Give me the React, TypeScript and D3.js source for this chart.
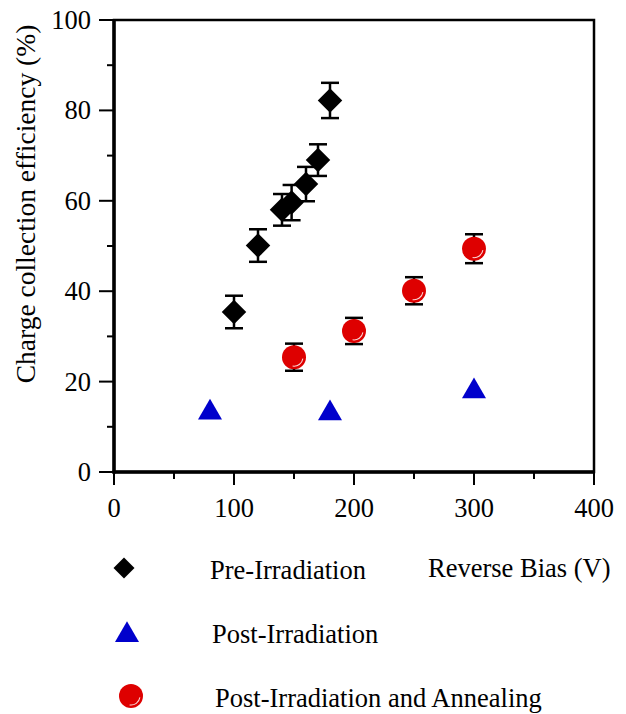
import React, { useEffect, useRef } from "react";
import * as d3 from "d3";

// bias (V), efficiency (%), error (±%)
const preBias = [100, 120, 140, 148, 160, 170, 180];
const preEff = [35.4, 50.1, 58.0, 59.6, 63.7, 69.0, 82.2];
const preErr = [3.6, 3.6, 3.5, 3.9, 3.8, 3.5, 3.9];

const postBias = [80, 180, 300];
const postEff = [13.6, 13.4, 18.3];

const annBias = [150, 200, 250, 300];
const annEff = [25.4, 31.2, 40.1, 49.4];
const annErr = [3.0, 2.9, 3.0, 3.2];

const xTicks = [0, 100, 200, 300, 400];
const yTicks = [0, 20, 40, 60, 80, 100];

const legendLabels = ["Pre-Irradiation", "Post-Irradiation", "Post-Irradiation and Annealing"];

const FONT = "'Liberation Serif', 'Times New Roman', serif";
const FS = 26.5;
const RED = "#de0000";
const BLUE = "#0000cc";

export default function App() {
  const ref = useRef<SVGSVGElement>(null);

  useEffect(() => {
    const svg = d3.select(ref.current);
    svg.selectAll("*").remove();

    const margin = { left: 114, right: 32, top: 20, bottom: 242 };
    const W = 626, H = 714;
    const x = d3.scaleLinear().domain([0, 400]).range([margin.left, W - margin.right]);
    const y = d3.scaleLinear().domain([0, 100]).range([H - margin.bottom, margin.top]);

    const g = svg.append("g");

    // minor + major ticks
    const xMinor = d3.range(50, 400, 100);
    const yMinor = d3.range(10, 100, 20);

    g.selectAll(".xmaj").data(xTicks).join("line")
      .attr("x1", d => x(d)).attr("x2", d => x(d))
      .attr("y1", y(0)).attr("y2", y(0) + 13)
      .attr("stroke", "#000").attr("stroke-width", 2);
    g.selectAll(".xmin").data(xMinor).join("line")
      .attr("x1", d => x(d)).attr("x2", d => x(d))
      .attr("y1", y(0)).attr("y2", y(0) + 7)
      .attr("stroke", "#000").attr("stroke-width", 2);
    g.selectAll(".ymaj").data(yTicks).join("line")
      .attr("x1", x(0) - 15).attr("x2", x(0))
      .attr("y1", d => y(d)).attr("y2", d => y(d))
      .attr("stroke", "#000").attr("stroke-width", 2);
    g.selectAll(".ymin").data(yMinor).join("line")
      .attr("x1", x(0) - 7).attr("x2", x(0))
      .attr("y1", d => y(d)).attr("y2", d => y(d))
      .attr("stroke", "#000").attr("stroke-width", 2);

    // tick labels
    g.selectAll(".xl").data(xTicks).join("text")
      .attr("x", d => x(d)).attr("y", y(0) + 45)
      .attr("text-anchor", "middle")
      .attr("font-family", FONT).attr("font-size", FS)
      .text(d => d);
    g.selectAll(".yl").data(yTicks).join("text")
      .attr("x", x(0) - 23).attr("y", d => y(d) + 9)
      .attr("text-anchor", "end")
      .attr("font-family", FONT).attr("font-size", FS)
      .text(d => d);

    // frame
    g.append("rect")
      .attr("x", x(0)).attr("y", y(100))
      .attr("width", x(400) - x(0)).attr("height", y(0) - y(100))
      .attr("fill", "none").attr("stroke", "#000").attr("stroke-width", 2.5);
    g.append("line").attr("x1", x(0)).attr("x2", x(0)).attr("y1", y(100) - 1).attr("y2", y(0) + 1.5)
      .attr("stroke", "#000").attr("stroke-width", 3.5);
    g.append("line").attr("x1", x(0) - 1.5).attr("x2", x(400) + 1).attr("y1", y(0)).attr("y2", y(0))
      .attr("stroke", "#000").attr("stroke-width", 3.5);

    // axis titles
    g.append("text")
      .attr("transform", `translate(35,204) rotate(-90)`)
      .attr("text-anchor", "middle")
      .attr("font-family", FONT).attr("font-size", 27.5)
      .text("Charge collection efficiency (%)");
    g.append("text")
      .attr("x", 428).attr("y", 577)
      .attr("font-family", FONT).attr("font-size", FS)
      .text("Reverse Bias (V)");

    const diamond = d3.symbol().type(d3.symbolSquare).size(300)();
    const tri = d3.symbol().type(d3.symbolTriangle).size(250)();

    const errBars = (bias: number[], eff: number[], err: number[]) => {
      const eg = g.append("g").attr("stroke", "#000").attr("stroke-width", 2.5);
      bias.forEach((b, i) => {
        const cx = x(b);
        eg.append("line").attr("x1", cx).attr("x2", cx)
          .attr("y1", y(eff[i] + err[i])).attr("y2", y(eff[i] - err[i]));
        [eff[i] + err[i], eff[i] - err[i]].forEach(v => {
          eg.append("line").attr("x1", cx - 9).attr("x2", cx + 9)
            .attr("y1", y(v)).attr("y2", y(v));
        });
      });
    };

    // pre-irradiation
    errBars(preBias, preEff, preErr);
    g.selectAll(".pre").data(preBias).join("path")
      .attr("d", diamond)
      .attr("transform", (d, i) => `translate(${x(d)},${y(preEff[i])}) rotate(45)`)
      .attr("fill", "#000");

    // post-irradiation
    g.selectAll(".post").data(postBias).join("path")
      .attr("d", tri)
      .attr("transform", (d, i) => `translate(${x(d)},${y(postEff[i]) + 2})`)
      .attr("fill", BLUE);

    // annealing
    errBars(annBias, annEff, annErr);
    const ball = (cx: number, cy: number) => {
      g.append("circle").attr("cx", cx).attr("cy", cy).attr("r", 12).attr("fill", RED);
      const arc = d3.arc()({ innerRadius: 8.5, outerRadius: 9.5, startAngle: Math.PI * 0.55, endAngle: Math.PI * 1.05 } as any);
      g.append("path").attr("d", arc).attr("transform", `translate(${cx},${cy})`)
        .attr("fill", "#fff").attr("opacity", 0.85);
    };
    annBias.forEach((b, i) => ball(x(b), y(annEff[i])));

    // legend
    const lg = g.append("g").attr("font-family", FONT).attr("font-size", FS);
    lg.append("path").attr("d", d3.symbol().type(d3.symbolSquare).size(220)())
      .attr("transform", "translate(124,568) rotate(45)").attr("fill", "#000");
    lg.append("text").attr("x", 210).attr("y", 579).text(legendLabels[0]);
    lg.append("path").attr("d", tri).attr("transform", "translate(127,635)").attr("fill", BLUE);
    lg.append("text").attr("x", 212).attr("y", 643).text(legendLabels[1]);
    ball(131, 696);
    lg.append("text").attr("x", 215).attr("y", 707).text(legendLabels[2]);
  }, []);

  return (
    <svg ref={ref} width={626} height={714}
      style={{ position: "absolute", left: 0, top: 0, background: "#fff" }} />
  );
}
